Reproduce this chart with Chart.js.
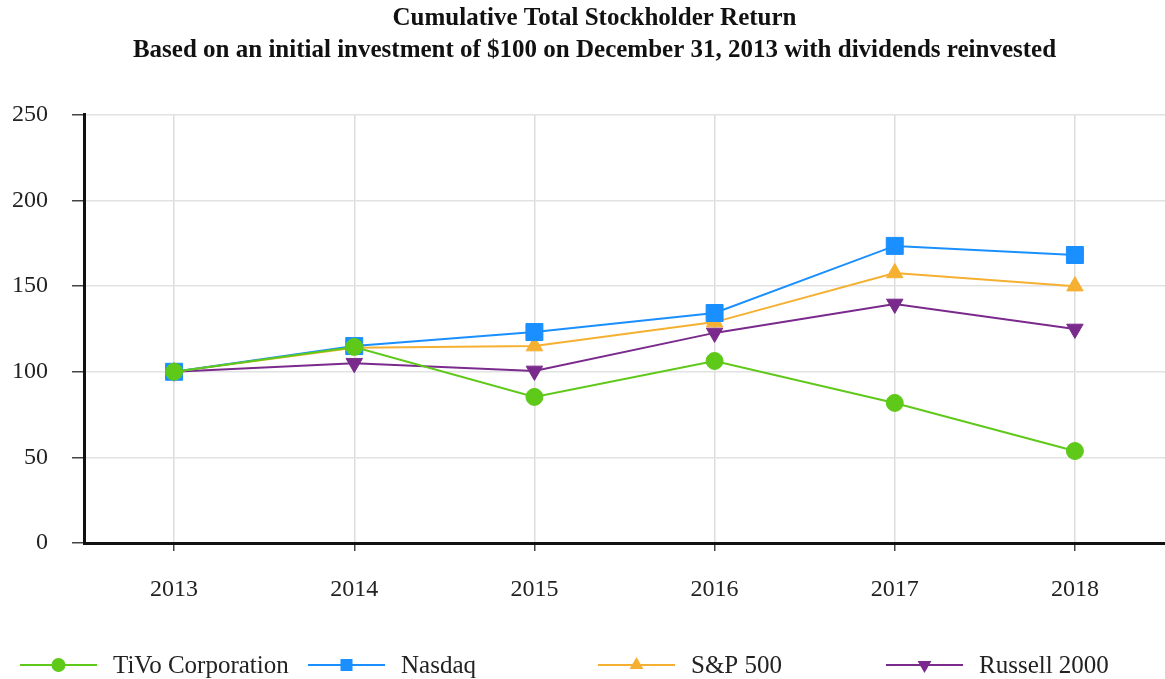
<!DOCTYPE html>
<html>
<head>
<meta charset="utf-8">
<script src="https://cdn.jsdelivr.net/npm/chart.js@4/dist/chart.umd.min.js"></script>
<style>
    html, body { margin: 0; padding: 0; background: #fff; }
    #wrap { width: 1165px; height: 679px; position: relative; }
</style>
</head>
<body>
<div id="wrap"><canvas id="chart_tsr"></canvas></div>
<script>
'use strict';

const years = ['2013', '2014', '2015', '2016', '2017', '2018'];
const tivo = [100, 114.5, 85.3, 106.3, 81.8, 53.7];
const nasdaq = [100, 115, 123.2, 134.3, 173.5, 168.2];
const sp500 = [100, 114, 115, 129, 157.7, 150];
const russell = [100, 105, 100.5, 122.7, 139.6, 125];
const yTicks = [0, 50, 100, 150, 200, 250];

const COLORS = {
    green: '#5fc91a',
    blue: '#1a8fff',
    orange: '#f5b031',
    purple: '#7a2a8c'
};
const FONT = '"Liberation Serif", "Times New Roman", serif';
const RADIUS = {circle: 8.5, rect: 12, triangle: 9.5};
const LEGEND_RADIUS = {circle: 7, rect: 8.5, triangle: 8};

function makeDataset(label, data, color, style, rotation) {
    return {
        label: label,
        data: data,
        borderColor: color,
        backgroundColor: color,
        borderWidth: 2,
        pointStyle: style,
        pointRotation: rotation || 0,
        pointRadius: RADIUS[style],
        pointBorderWidth: 1,
        lineTension: 0,
        fill: false
    };
}

// legend at the bottom in fixed columns, like the original
const columnLegend = {
    id: 'columnLegend',
    afterDraw(chart) {
        let ctx = chart.ctx,
            cols = [20, 308, 598, 886],
            y = 665,
            lineLen = 77;
        ctx.save();
        chart.data.datasets.forEach((ds, i) => {
            let x = cols[i];
            ctx.strokeStyle = ds.borderColor;
            ctx.lineWidth = 2;
            ctx.beginPath();
            ctx.moveTo(x, y);
            ctx.lineTo(x + lineLen, y);
            ctx.stroke();
            ctx.fillStyle = ds.backgroundColor;
            Chart.helpers.drawPoint(ctx, {
                pointStyle: ds.pointStyle,
                rotation: ds.pointRotation,
                radius: LEGEND_RADIUS[ds.pointStyle],
                borderWidth: 0
            }, x + lineLen / 2, y);
            ctx.fillStyle = '#222';
            ctx.font = '25px ' + FONT;
            ctx.textBaseline = 'middle';
            ctx.textAlign = 'left';
            ctx.fillText(ds.label, x + lineLen + 16, y + 1);
        });
        ctx.restore();
    }
};

let ctx = document.getElementById('chart_tsr').getContext('2d');
window.ChartTSR = new Chart(ctx, {
    type: 'line',
    data: {
        labels: years,
        datasets: [
            makeDataset('TiVo Corporation', tivo, COLORS.green, 'circle'),
            makeDataset('Nasdaq', nasdaq, COLORS.blue, 'rect'),
            makeDataset('S&P 500', sp500, COLORS.orange, 'triangle'),
            makeDataset('Russell 2000', russell, COLORS.purple, 'triangle', 180)
        ]
    },
    options: {
        responsive: true,
        maintainAspectRatio: false,
        animation: false,
        layout: {autoPadding: false, padding: {left: 12, right: -12, top: 0, bottom: 76}},
        plugins: {
            legend: {display: false},
            tooltip: {enabled: false},
            title: {
                display: true,
                text: ['Cumulative Total Stockholder Return',
                       'Based on an initial investment of $100 on December 31, 2013 with dividends reinvested'],
                color: '#111',
                font: {family: FONT, size: 25, weight: 'bold', lineHeight: 1.25},
                padding: {top: 3.4, bottom: 49}
            }
        },
        scales: {
            x: {
                offset: true,
                afterFit: axis => {
                    axis.height = 60;
                    axis.paddingLeft = 0;
                    axis.paddingRight = 0;
                },
                grid: {offset: false, color: '#dddddd', lineWidth: 1.5, tickColor: '#444', tickLength: 8},
                border: {color: '#111', width: 3},
                ticks: {color: '#222', padding: 24, font: {family: FONT, size: 24}}
            },
            y: {
                min: 0,
                max: 250,
                afterBuildTicks: axis => { axis.ticks = yTicks.map(v => ({value: v})); },
                afterFit: axis => { axis.width = 72; },
                grid: {color: '#e2e2e2', lineWidth: 1.5, tickColor: '#444', tickLength: 12},
                border: {color: '#111', width: 3},
                ticks: {color: '#222', padding: 24, font: {family: FONT, size: 24}}
            }
        }
    },
    plugins: [columnLegend]
});
</script>
</body>
</html>
